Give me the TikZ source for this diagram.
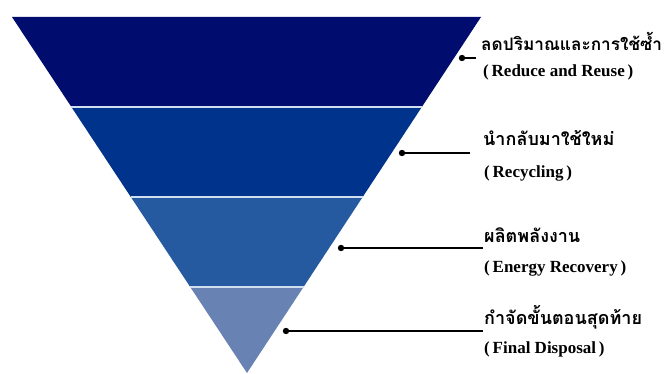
\documentclass[tikz,border=0pt]{standalone}
\usepackage{fontspec}
\setmainfont{Liberation Serif}
\newfontfamily\enfont{Liberation Serif}
\newfontfamily\thaifont[Script=Thai]{Loma}
\usetikzlibrary{calc}
\definecolor{bandA}{HTML}{000C6E}
\definecolor{bandB}{HTML}{00348C}
\definecolor{bandC}{HTML}{265AA0}
\definecolor{bandD}{HTML}{6882B4}
\definecolor{sepcol}{HTML}{D0DEF2}
\tikzset{
  sep/.style={draw=sepcol, line width=1.6pt},
  thlabel/.style={anchor=west, inner sep=0pt, font=\thaifont\bfseries\fontsize{18}{22}\selectfont},
  enlabel/.style={anchor=west, inner sep=0pt, font=\enfont\bfseries\fontsize{17}{20}\selectfont},
  leader/.style={draw=black, line width=2pt},
  dotmark/.style={fill=black}
}
\begin{document}
\begin{tikzpicture}[x=1pt,y=-1pt]
\useasboundingbox (0,0) rectangle (667,374);
\fill[white] (0,0) rectangle (667,374);
% triangle corners
\coordinate (TL) at (12,17);
\coordinate (TR) at (481,17);
\coordinate (AP) at (247,373);
% band edge points
\coordinate (L1) at ($(TL)!0.2528!(AP)$);
\coordinate (R1) at ($(TR)!0.2528!(AP)$);
\coordinate (L2) at ($(TL)!0.5056!(AP)$);
\coordinate (R2) at ($(TR)!0.5056!(AP)$);
\coordinate (L3) at ($(TL)!0.7584!(AP)$);
\coordinate (R3) at ($(TR)!0.7584!(AP)$);
% bands
\fill[bandA] (TL) -- (TR) -- (R1) -- (L1) -- cycle;
\fill[bandB] (L1) -- (R1) -- (R2) -- (L2) -- cycle;
\fill[bandC] (L2) -- (R2) -- (R3) -- (L3) -- cycle;
\fill[bandD] (L3) -- (R3) -- (AP) -- cycle;
% separators
\draw[sep] (L1) -- (R1);
\draw[sep] (L2) -- (R2);
\draw[sep] (L3) -- (R3);
% labels
\node[thlabel, font=\thaifont\bfseries\fontsize{17.2}{21}\selectfont] (t1) at (481,41) {ลดปริมาณและการใช้ซ้ำ};
\node[enlabel] (e1) at (483,72) {(\,Reduce and Reuse\,)};
\node[thlabel] (t2) at (483,138) {นำกลับมาใช้ใหม่};
\node[enlabel] (e2) at (484,173) {(\,Recycling\,)};
\node[thlabel] (t3) at (484,235) {ผลิตพลังงาน};
\node[enlabel] (e3) at (484,268) {(\,Energy Recovery\,)};
\node[thlabel] (t4) at (484,317) {กำจัดขั้นตอนสุดท้าย};
\node[enlabel] (e4) at (484,349) {(\,Final Disposal\,)};
% leaders
\coordinate (d1) at (462,58);
\coordinate (d2) at (402,153);
\coordinate (d3) at (341,248);
\coordinate (d4) at (286,331);
\coordinate (f1) at (476,58);
\coordinate (f2) at (470,153);
\coordinate (f3) at (483,248);
\coordinate (f4) at (483,331);
\draw[leader] (d1) -- (f1);
\draw[leader] (d2) -- (f2);
\draw[leader] (d3) -- (f3);
\draw[leader] (d4) -- (f4);
\foreach \d in {d1,d2,d3,d4} \fill[dotmark] (\d) circle (3.2);
\end{tikzpicture}
\end{document}
